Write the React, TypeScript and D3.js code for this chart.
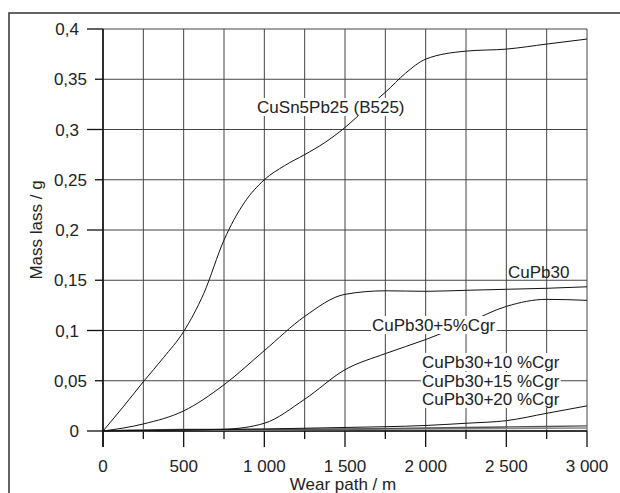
import { useEffect, useRef } from 'react';
import * as d3 from 'd3';

// axis ticks and labels
const xTickValues = [0, 500, 1000, 1500, 2000, 2500, 3000];
const xTickLabels = ['0', '500', '1 000', '1 500', '2 000', '2 500', '3 000'];
const xMinorTicks = [250, 750, 1250, 1750, 2250, 2750];
const yTickValues = [0, 0.1, 0.2, 0.3, 0.4];
const yTickLabels = ['0', '0,1', '0,2', '0,3', '0,4'];
const yMinorTicks = [0.05, 0.15, 0.25, 0.35];
const yMinorLabels = ['0,05', '0,15', '0,25', '0,35'];

// curves (wear path in m, mass loss in g)
const b525Path = [0, 125, 250, 375, 500, 625, 750, 875, 1000, 1125, 1250, 1375, 1500, 1625, 1750, 1875, 2000, 2250, 2500, 2750, 3000];
const b525Loss = [0, 0.024, 0.049, 0.073, 0.099, 0.137, 0.19, 0.227, 0.25, 0.264, 0.275, 0.287, 0.302, 0.32, 0.337, 0.356, 0.37, 0.378, 0.38, 0.385, 0.39];

const cupb30Path = [0, 250, 500, 750, 1000, 1250, 1500, 1750, 2000, 2250, 2500, 2750, 3000];
const cupb30Loss = [0, 0.007, 0.02, 0.046, 0.08, 0.114, 0.136, 0.1395, 0.139, 0.14, 0.141, 0.142, 0.1435];

const cgr5Path = [0, 250, 500, 750, 1000, 1250, 1500, 1750, 2000, 2250, 2500, 2750, 3000];
const cgr5Loss = [0, 0.0005, 0.001, 0.0017, 0.0077, 0.0316, 0.061, 0.077, 0.091, 0.107, 0.124, 0.131, 0.13];

const cgr10Path = [0, 500, 1000, 1500, 2000, 2500, 3000];
const cgr10Loss = [0, 0.0015, 0.0015, 0.002, 0.003, 0.004, 0.005];

const cgr15Path = [0, 500, 1000, 1500, 2000, 2500, 3000];
const cgr15Loss = [0, 0.001, 0.001, 0.0015, 0.002, 0.0025, 0.003];

const cgr20Path = [0, 500, 1000, 1500, 2000, 2250, 2500, 2750, 3000];
const cgr20Loss = [0, 0.001, 0.002, 0.0035, 0.0055, 0.0077, 0.0103, 0.0176, 0.025];

const FONT = '"Liberation Sans", Arial, sans-serif';

function WearChart() {
  const svgRef = useRef<SVGSVGElement>(null);

  useEffect(() => {
    const width = 620;
    const height = 493;
    const svg = d3.select(svgRef.current).attr('width', width).attr('height', height);
    svg.selectAll('*').remove();

    const x = d3.scaleLinear().domain([0, 3000]).range([103, 587]);
    const y = d3.scaleLinear().domain([0, 0.4]).range([431, 29]);

    // outer frame (only top and left edges are in view)
    svg.append('path')
      .attr('d', `M9,${height} L9,13 L${width},13`)
      .attr('fill', 'none')
      .attr('stroke', '#333')
      .attr('stroke-width', 1.5);

    const grid = svg.append('g').attr('stroke', '#444').attr('stroke-width', 1);
    const allX = [...xTickValues, ...xMinorTicks];
    const allY = [...yTickValues, ...yMinorTicks];
    grid.selectAll('line.v').data(allX).enter().append('line')
      .attr('x1', d => x(d)).attr('x2', d => x(d))
      .attr('y1', y(0.4)).attr('y2', y(0));
    grid.selectAll('line.h').data(allY).enter().append('line')
      .attr('x1', x(0)).attr('x2', x(3000))
      .attr('y1', d => y(d)).attr('y2', d => y(d));

    // tick marks outside the plot
    const ticks = svg.append('g').attr('stroke', '#111').attr('stroke-width', 1.3);
    ticks.selectAll('line.xt').data(xTickValues).enter().append('line')
      .attr('x1', d => x(d)).attr('x2', d => x(d)).attr('y1', y(0)).attr('y2', y(0) + 16);
    ticks.selectAll('line.xm').data(xMinorTicks).enter().append('line')
      .attr('x1', d => x(d)).attr('x2', d => x(d)).attr('y1', y(0)).attr('y2', y(0) + 8);
    ticks.selectAll('line.yt').data(yTickValues).enter().append('line')
      .attr('y1', d => y(d)).attr('y2', d => y(d)).attr('x1', x(0) - 16).attr('x2', x(0));
    ticks.selectAll('line.ym').data(yMinorTicks).enter().append('line')
      .attr('y1', d => y(d)).attr('y2', d => y(d)).attr('x1', x(0) - 8).attr('x2', x(0));

    // axis lines
    svg.append('line').attr('x1', x(0)).attr('x2', x(0)).attr('y1', y(0.4)).attr('y2', y(0) + 16)
      .attr('stroke', '#111').attr('stroke-width', 1.6);
    svg.append('line').attr('x1', x(0)).attr('x2', x(3000)).attr('y1', y(0)).attr('y2', y(0))
      .attr('stroke', '#111').attr('stroke-width', 1.6);

    // tick labels
    const labels = svg.append('g').attr('font-family', FONT).attr('font-size', 17).attr('fill', '#222');
    labels.selectAll('text.xl').data(xTickValues).enter().append('text')
      .attr('x', d => x(d)).attr('y', 472).attr('text-anchor', 'middle')
      .text((d, i) => xTickLabels[i]);
    labels.selectAll('text.yl').data(yTickValues).enter().append('text')
      .attr('x', x(0) - 24).attr('y', d => y(d) + 6).attr('text-anchor', 'end')
      .text((d, i) => yTickLabels[i]);
    labels.selectAll('text.ym').data(yMinorTicks).enter().append('text')
      .attr('x', x(0) - 16).attr('y', d => y(d) + 6).attr('text-anchor', 'end')
      .text((d, i) => yMinorLabels[i]);

    labels.append('text').attr('x', 343).attr('y', 490).attr('text-anchor', 'middle').text('Wear path / m');
    labels.append('text').attr('transform', `translate(42,${(y(0) + y(0.4)) / 2}) rotate(-90)`)
      .attr('text-anchor', 'middle').text('Mass lass / g');

    // curves
    const line = d3.line<[number, number]>()
      .x(d => x(d[0]))
      .y(d => y(d[1]))
      .curve(d3.curveMonotoneX);

    const series = [
      { px: cgr15Path, py: cgr15Loss, color: '#888', w: 1.3 },
      { px: cgr10Path, py: cgr10Loss, color: '#555', w: 1.3 },
      { px: cgr20Path, py: cgr20Loss, color: '#111', w: 1 },
      { px: cgr5Path, py: cgr5Loss, color: '#111', w: 1 },
      { px: cupb30Path, py: cupb30Loss, color: '#111', w: 1 },
      { px: b525Path, py: b525Loss, color: '#111', w: 1 },
    ];
    svg.append('g').selectAll('path').data(series).enter().append('path')
      .attr('d', s => line(s.px.map((v, i) => [v, s.py[i]] as [number, number])))
      .attr('fill', 'none')
      .attr('stroke', s => s.color)
      .attr('stroke-width', s => s.w);

    // curve labels (value-space anchors), white boxes hide the grid behind most of them
    const curveLabels = [
      { text: 'CuSn5Pb25 (B525)', at: [955, 0.3164], box: true },
      { text: 'CuPb30', at: [2510, 0.1522], box: false },
      { text: 'CuPb30+5%Cgr', at: [1667, 0.0995], box: true },
      { text: 'CuPb30+10 %Cgr', at: [1977, 0.0627], box: true },
      { text: 'CuPb30+15 %Cgr', at: [1977, 0.0438], box: true },
      { text: 'CuPb30+20 %Cgr', at: [1977, 0.0259], box: true },
    ];
    const lg = svg.append('g').attr('font-family', FONT).attr('font-size', 17).attr('fill', '#222');
    curveLabels.forEach(l => {
      const bx = lg.append('rect').attr('fill', 'white');
      const t = lg.append('text').attr('x', x(l.at[0])).attr('y', y(l.at[1])).text(l.text);
      if (l.box) {
        const bb = (t.node() as SVGTextElement).getBBox();
        bx.attr('x', bb.x - 1).attr('width', bb.width + 2)
          .attr('y', y(l.at[1]) - 15).attr('height', 18);
      } else {
        bx.remove();
      }
    });
  }, []);

  return <svg ref={svgRef} style={{ position: 'absolute', left: 0, top: 0 }}></svg>;
}

export default function App() {
  return (
    <div>
      <WearChart />
    </div>
  );
}
